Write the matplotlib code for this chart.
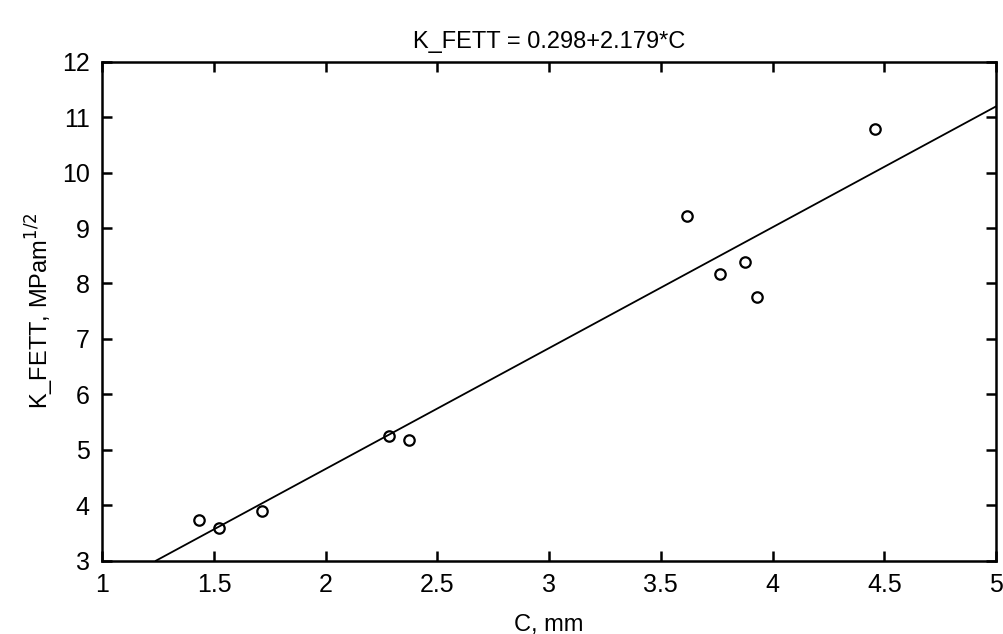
import matplotlib
matplotlib.use("Agg")
import matplotlib.pyplot as plt
import numpy as np

plt.rcParams['font.family'] = ['Liberation Sans', 'DejaVu Sans']

# measured points (C in mm, K_FETT in MPa m^1/2)
c_mm = [1.434, 1.522, 1.713, 2.283, 2.371, 3.616, 3.764, 3.877, 3.931, 4.460]
k_fett = [3.73, 3.585, 3.90, 5.256, 5.18, 9.217, 8.175, 8.386, 7.76, 10.78]

# fitted line coefficients
intercept = 0.298
slope = 2.179

x_ticks = [1, 1.5, 2, 2.5, 3, 3.5, 4, 4.5, 5]
x_labels = ['1', '1.5', '2', '2.5', '3', '3.5', '4', '4.5', '5']
y_ticks = [3, 4, 5, 6, 7, 8, 9, 10, 11, 12]

fig = plt.figure(figsize=(10.04, 6.34), dpi=100)
ax = fig.add_axes([0.1019, 0.1156, 0.8901, 0.7871])

# regression line from where it enters the box (y=3) to x=5
x0 = (3 - intercept) / slope
xl = np.array([x0, 5.0])
ax.plot(xl, intercept + slope * xl, color='black', lw=1.3)

ax.plot(c_mm, k_fett, 'o', mfc='none', mec='black', ms=7.5, mew=1.6)

ax.set_xlim(1, 5)
ax.set_ylim(3, 12)
ax.set_xticks(x_ticks)
ax.set_xticklabels(x_labels)
ax.set_yticks(y_ticks)
ax.tick_params(direction='in', length=7, width=1.8, top=True, right=True,
               labelsize=18, pad=9)
for s in ax.spines.values():
    s.set_linewidth(1.8)

ax.set_title('K_FETT = 0.298+2.179*C', fontsize=17, pad=10)
ax.set_xlabel('C, mm', fontsize=17, labelpad=12)
ax.set_ylabel('K_FETT, MPam$^{1/2}$', fontsize=17, labelpad=4)

fig.savefig('out.png', dpi=100)
